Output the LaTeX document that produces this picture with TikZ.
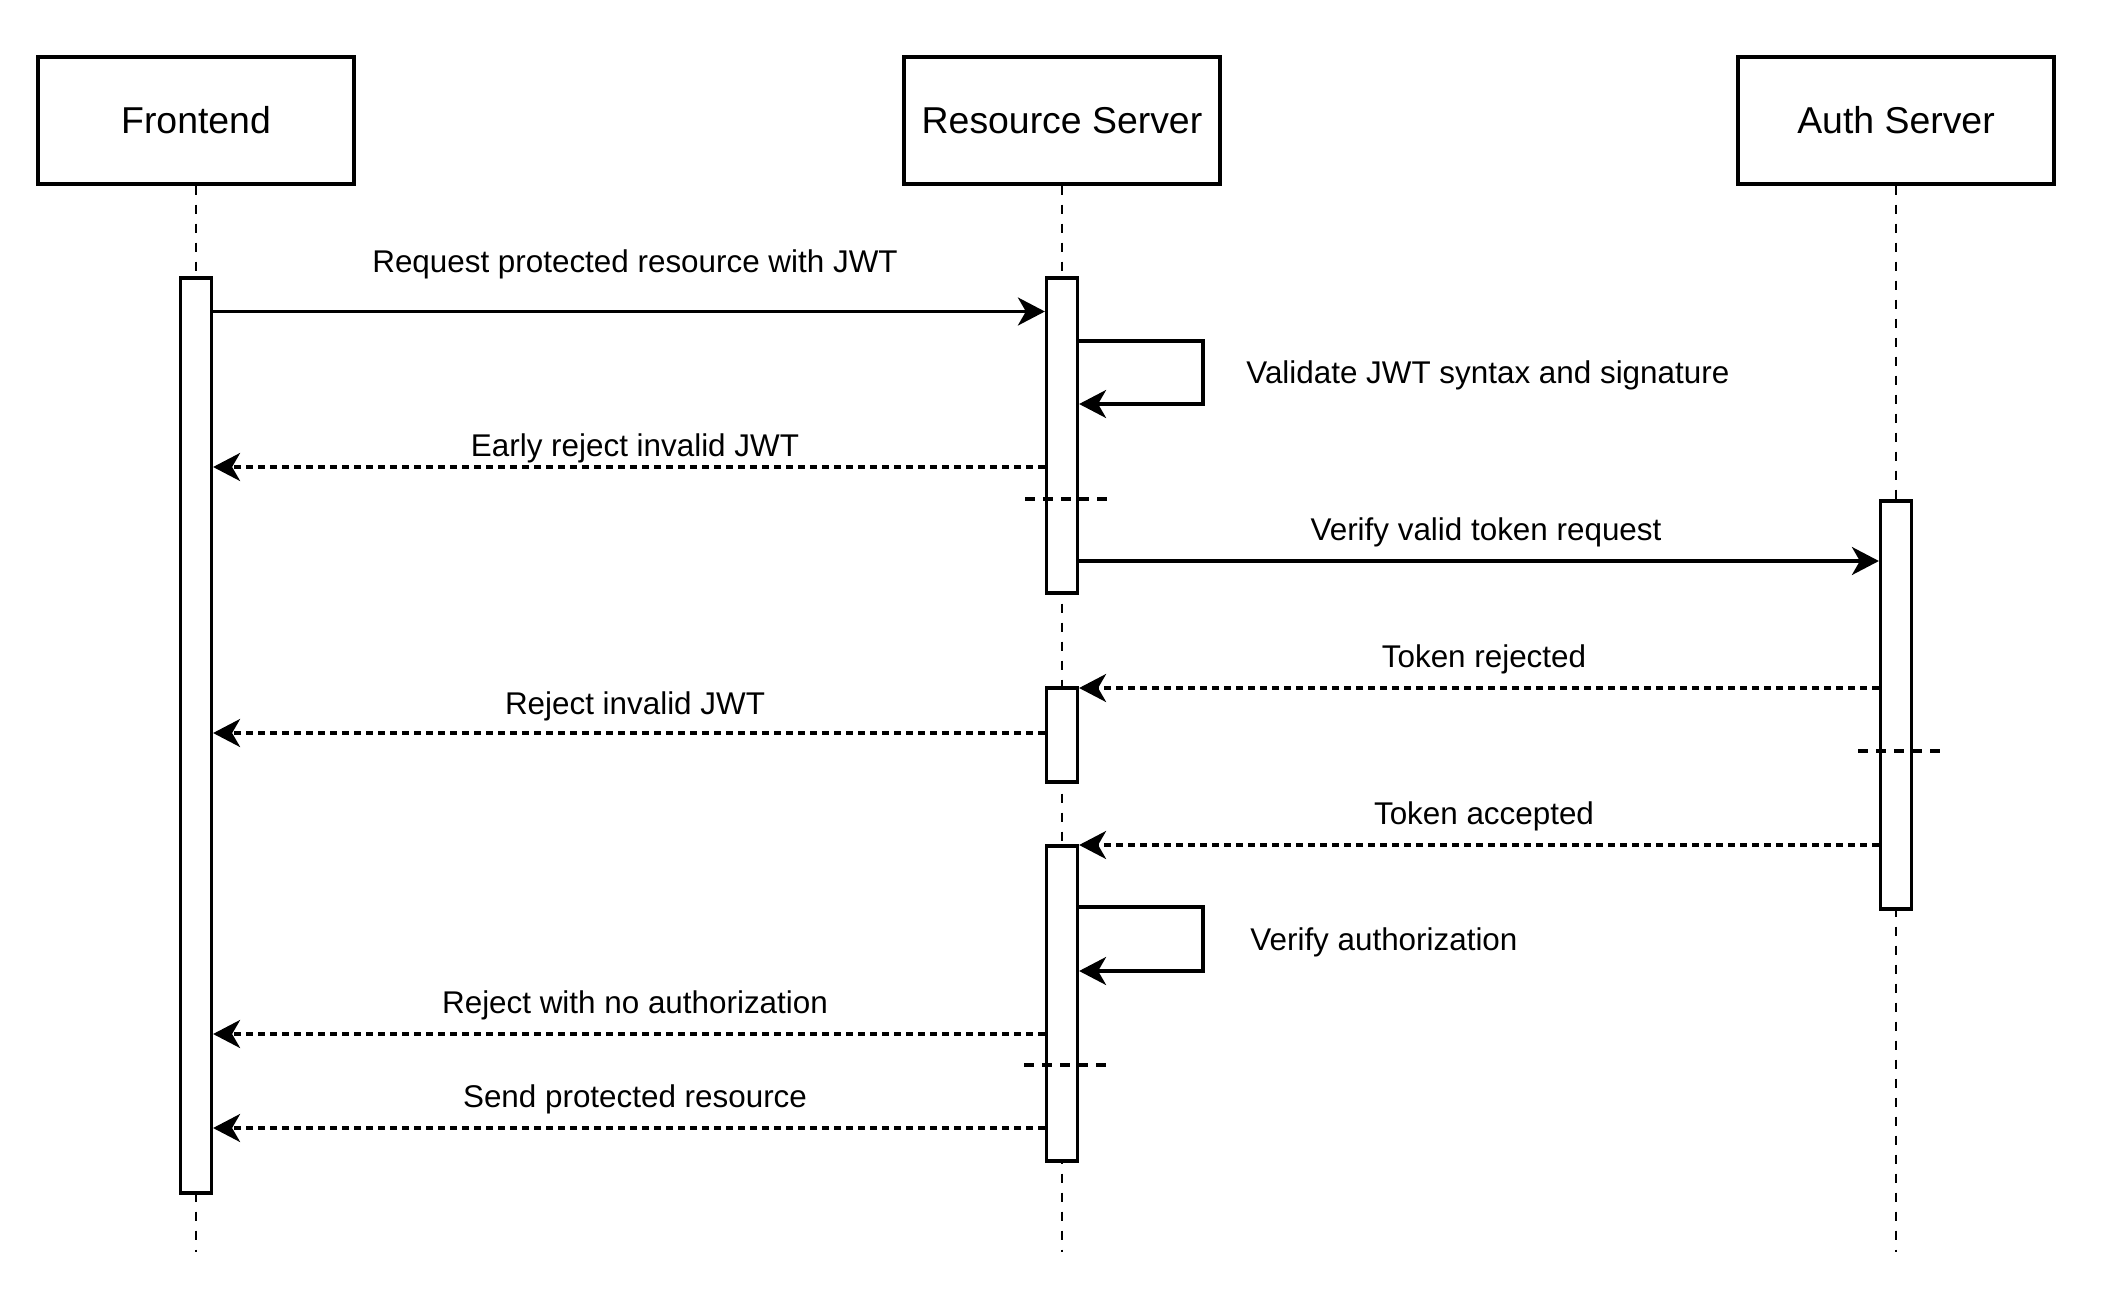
\documentclass[tikz,border=0pt]{standalone}
\usepackage{fontspec}
\setmainfont{Liberation Sans}
\usepackage{tikz}
\usetikzlibrary{arrows.meta}

\begin{document}
\begin{tikzpicture}[%
            x=0.5pt, y=-0.5pt,
            participant/.style={draw, line width=1.6pt, minimum width=158pt, minimum height=63.5pt, inner sep=0pt, font=\fontsize{18.7}{22}\selectfont},
            lifeline/.style={line width=1.3pt, dash pattern=on 4.5pt off 5pt},
            activation/.style={draw, fill=white, line width=1.6pt, minimum width=15.5pt, inner sep=0pt},
            call/.style={line width=1.6pt, line join=miter, -{Stealth[length=13.5pt, width=14pt, inset=4pt]}},
            reply/.style={call, dash pattern=on 3.5pt off 2.5pt},
            separator/.style={line width=1.6pt, dash pattern=on 5pt off 4pt},
            msglabel/.style={anchor=base, inner sep=0pt, font=\fontsize{15.7}{18}\selectfont},
        ]
        \useasboundingbox (0,0) rectangle (2101,1301);

        \node[participant] (frontend) at (196,120.5) {Frontend};
        \node[participant] (resource) at (1062,120.5) {Resource Server};
        \node[participant] (auth) at (1896,120.5) {Auth Server};

        \draw[lifeline] (frontend.south) -- (frontend.south |- 0,1252);
        \draw[lifeline] (resource.south) -- (resource.south |- 0,1252);
        \draw[lifeline] (auth.south) -- (auth.south |- 0,1252);

        \node[activation, minimum height=457.5pt] (feact) at (196,735.5) {};
        \node[activation, minimum height=157.5pt] (rsact1) at (1062,435.5) {};
        \node[activation, minimum height=47pt] (rsact2) at (1062,735) {};
        \node[activation, minimum height=157.5pt] (rsact3) at (1062,1003.5) {};
        \node[activation, minimum height=204pt] (asact) at (1896,705) {};

        \draw[call] (feact.east |- 0,311.5) -- (rsact1.west |- 0,311.5);
        \node[msglabel] (lrequest) at (635,272) {Request protected resource with JWT};

        \draw[call] (rsact1.east |- 0,341) -| (1203,404) -- (rsact1.east |- 0,404);
        \node[msglabel, anchor=base west] (lvalidate) at (1246,383) {Validate JWT syntax and signature};

        \draw[reply] (rsact1.west |- 0,467) -- (feact.east |- 0,467);
        \node[msglabel] (learly) at (635,456) {Early reject invalid JWT};

        \draw[separator] (1025,499) -- (1110,499);

        \draw[call] (rsact1.east |- 0,561) -- (asact.west |- 0,561);
        \node[msglabel] (lverify) at (1486,540) {Verify valid token request};

        \draw[reply] (asact.west |- 0,688) -- (rsact2.east |- 0,688);
        \node[msglabel] (lrejected) at (1484,667) {Token rejected};

        \draw[reply] (rsact2.west |- 0,733) -- (feact.east |- 0,733);
        \node[msglabel] (lreject) at (635,714) {Reject invalid JWT};

        \draw[separator] (1858,751) -- (1945,751);

        \draw[reply] (asact.west |- 0,845) -- (rsact3.east |- 0,845);
        \node[msglabel] (laccepted) at (1484,824) {Token accepted};

        \draw[call] (rsact3.east |- 0,907) -| (1203,971) -- (rsact3.east |- 0,971);
        \node[msglabel, anchor=base west] (lauthz) at (1250,950) {Verify authorization};

        \draw[reply] (rsact3.west |- 0,1034) -- (feact.east |- 0,1034);
        \node[msglabel] (lnoauth) at (635,1013) {Reject with no authorization};

        \draw[separator] (1024,1065) -- (1109,1065);

        \draw[reply] (rsact3.west |- 0,1128) -- (feact.east |- 0,1128);
        \node[msglabel] (lsend) at (635,1107) {Send protected resource};
    \end{tikzpicture}
\end{document}
